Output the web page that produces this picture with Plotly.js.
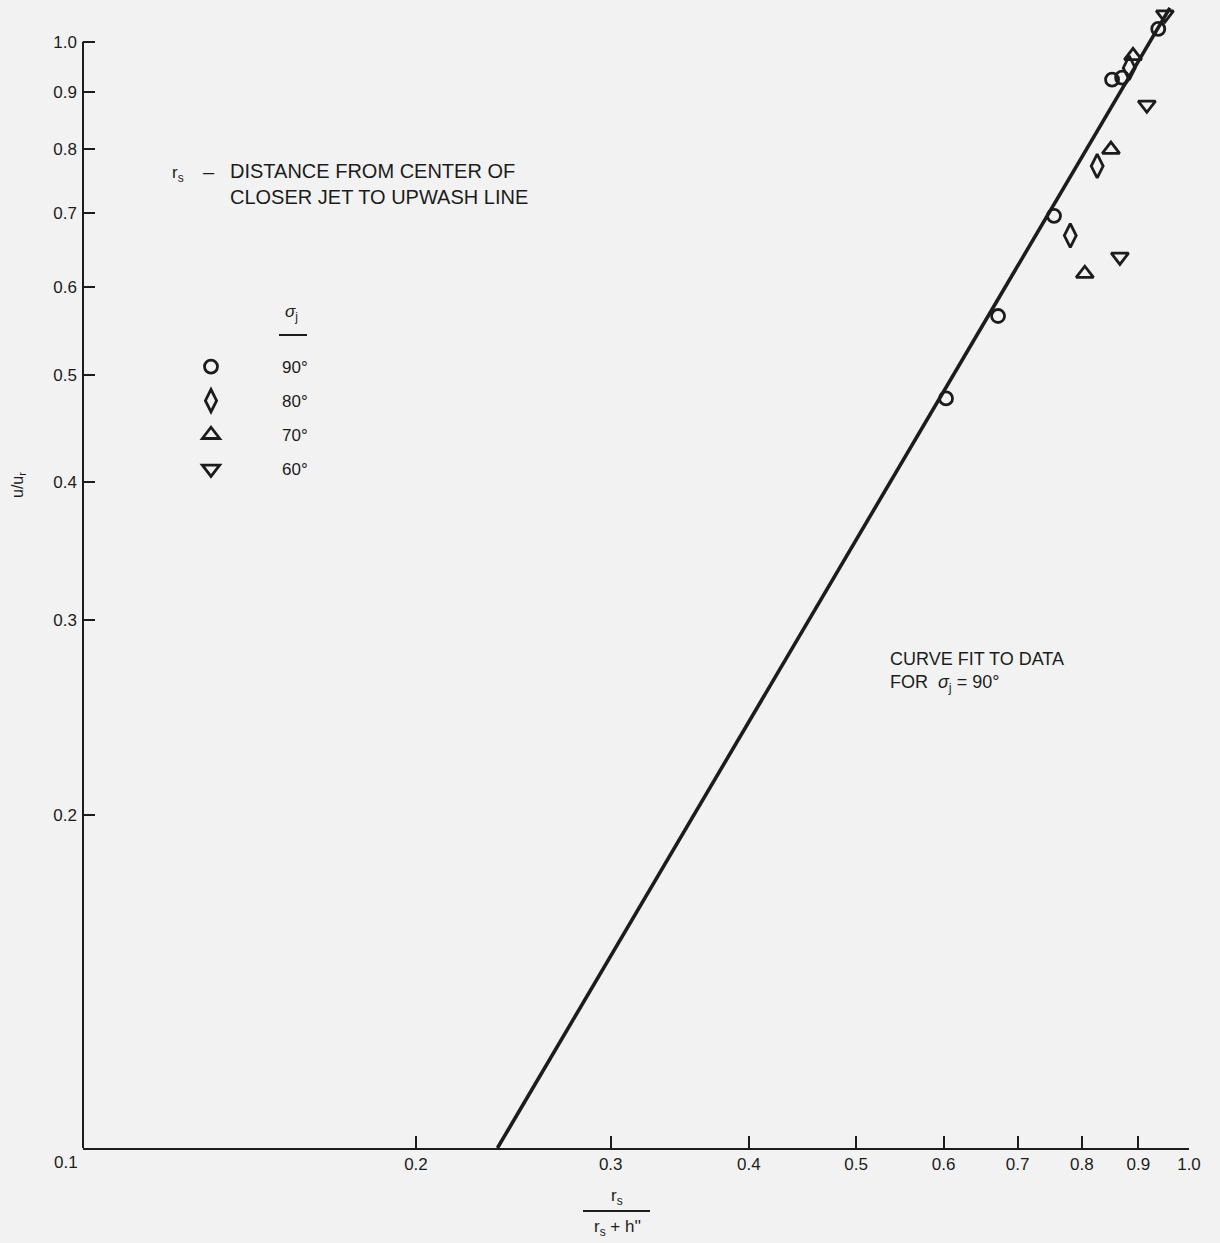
<!DOCTYPE html>
<html>
<head>
<meta charset="utf-8">
<script src="https://cdn.plot.ly/plotly-3.0.1.min.js"></script>
<style>
  html, body { margin: 0; padding: 0; background: #f2f2f2; }
  #chart { width: 1220px; height: 1243px; }
</style>
</head>
<body>
<div id="chart"></div>
<script>
// Upwash velocity ratio against r_s / (r_s + h''), log-log, by jet angle sigma_j
var angleLabels = ['90°', '80°', '70°', '60°'];

var x90 = [0.603, 0.672, 0.755, 0.852, 0.870, 0.938];
var y90 = [0.476, 0.565, 0.696, 0.924, 0.928, 1.027];

var x80 = [0.781, 0.826, 0.883];
var y80 = [0.668, 0.772, 0.947];

var x70 = [0.805, 0.850, 0.890];
var y70 = [0.617, 0.799, 0.971];

var x60 = [0.866, 0.916, 0.951];
var y60 = [0.639, 0.877, 1.058];

// straight-line (power-law) fit through the 90 degree points
var fitX = [0.237, 0.961];
var fitY = [0.100, 1.073];

var xTicks = [0.2, 0.3, 0.4, 0.5, 0.6, 0.7, 0.8, 0.9, 1.0];
var xTickText = ['0.2', '0.3', '0.4', '0.5', '0.6', '0.7', '0.8', '0.9', '1.0'];
var yTicks = [0.2, 0.3, 0.4, 0.5, 0.6, 0.7, 0.8, 0.9, 1.0];
var yTickText = ['0.2', '0.3', '0.4', '0.5', '0.6', '0.7', '0.8', '0.9', '1.0'];

// page geometry
var W = 1220, H = 1243;
var M = { l: 83, r: 31, t: 3, b: 95 };
var plotW = W - M.l - M.r, plotH = H - M.t - M.b;
var yRange = [-1, 0.035];
function px(x) { return (x - M.l) / plotW; }
function py(y) { return (M.t + plotH - y) / plotH; }

var ink = '#1c1c1c';
var FONT = '"Liberation Sans", Arial, Helvetica, sans-serif';

function markerTrace(xs, ys, name, symbol, size) {
  return {
    type: 'scatter', mode: 'markers', x: xs, y: ys, name: name,
    legendgroup: name,
    marker: { symbol: symbol, size: size, color: ink, line: { color: ink, width: 2.8 } },
    cliponaxis: false, hoverinfo: 'x+y'
  };
}

var traces = [
  { type: 'scatter', mode: 'lines', x: fitX, y: fitY, showlegend: false,
    line: { color: ink, width: 3.6 }, hoverinfo: 'skip' },
  markerTrace(x90, y90, angleLabels[0], 'circle-open', 13),
  markerTrace(x80, y80, angleLabels[1], 'diamond-tall-open', 17),
  markerTrace(x70, y70, angleLabels[2], 'triangle-up-open', 15),
  markerTrace(x60, y60, angleLabels[3], 'triangle-down-open', 15)
];

var annFont = { family: FONT, size: 17, color: ink };
var capsFont = { family: FONT, size: 20, color: ink };

var annotations = [
  // shared origin label
  { xref: 'paper', yref: 'paper', x: px(66), y: py(1162), text: '0.1',
    showarrow: false, font: annFont, xanchor: 'center', yanchor: 'middle' },
  // y-axis title
  { xref: 'paper', yref: 'paper', x: px(18), y: py(485), text: 'u/u<sub>r</sub>',
    textangle: -90, showarrow: false, font: { family: FONT, size: 16, color: ink },
    xanchor: 'center', yanchor: 'middle' },
  // x-axis title as a fraction
  { xref: 'paper', yref: 'paper', x: px(617), y: py(1197), text: 'r<sub>s</sub>',
    showarrow: false, font: annFont, xanchor: 'center', yanchor: 'middle' },
  { xref: 'paper', yref: 'paper', x: px(617), y: py(1228), text: "r<sub>s</sub> + h''",
    showarrow: false, font: annFont, xanchor: 'center', yanchor: 'middle' },
  // definition note
  { xref: 'paper', yref: 'paper', x: px(178), y: py(174), text: 'r<sub>s</sub>',
    showarrow: false, font: annFont, xanchor: 'center', yanchor: 'middle' },
  { xref: 'paper', yref: 'paper', x: px(209), y: py(172), text: '–',
    showarrow: false, font: capsFont, xanchor: 'center', yanchor: 'middle' },
  { xref: 'paper', yref: 'paper', x: px(228), y: py(184),
    text: 'DISTANCE FROM CENTER OF<br>CLOSER JET TO UPWASH LINE',
    showarrow: false, font: capsFont, xanchor: 'left', yanchor: 'middle', align: 'left' },
  // legend header
  { xref: 'paper', yref: 'paper', x: px(291), y: py(313), text: '<i>σ</i><sub>j</sub>',
    showarrow: false, font: annFont, xanchor: 'center', yanchor: 'middle' },
  // fit note
  { xref: 'paper', yref: 'paper', x: px(888), y: py(672),
    text: 'CURVE FIT TO DATA<br>FOR  <i>σ</i><sub>j</sub> = 90°',
    showarrow: false, font: { family: FONT, size: 18, color: ink },
    xanchor: 'left', yanchor: 'middle', align: 'left' }
];

var shapes = [
  // y-axis line, drawn only from 0.1 up to 1.0
  { type: 'line', xref: 'paper', yref: 'paper', x0: 0, x1: 0,
    y0: 0, y1: (0 - yRange[0]) / (yRange[1] - yRange[0]),
    line: { color: ink, width: 2 } },
  // fraction bar of the x title
  { type: 'line', xref: 'paper', yref: 'paper', x0: px(583), x1: px(650),
    y0: py(1211), y1: py(1211), line: { color: ink, width: 2 } },
  // underline of the legend header
  { type: 'line', xref: 'paper', yref: 'paper', x0: px(279), x1: px(307),
    y0: py(335), y1: py(335), line: { color: ink, width: 2 } }
];

var layout = {
  width: W, height: H,
  margin: M,
  paper_bgcolor: '#f2f2f2', plot_bgcolor: '#f2f2f2',
  font: { family: FONT, color: ink, size: 17 },
  showlegend: true,
  legend: {
    x: px(140), y: py(349), xanchor: 'left', yanchor: 'top',
    bgcolor: 'rgba(0,0,0,0)', borderwidth: 0,
    font: { family: FONT, size: 17, color: ink },
    itemwidth: 132, tracegroupgap: 9, traceorder: 'grouped'
  },
  xaxis: {
    type: 'log', range: [-1, 0],
    tickmode: 'array', tickvals: xTicks, ticktext: xTickText,
    ticks: 'inside', ticklen: 12, tickwidth: 2, tickcolor: ink,
    showline: true, linewidth: 2, linecolor: ink,
    showgrid: false, zeroline: false, fixedrange: true,
    tickfont: { family: FONT, size: 17, color: ink }
  },
  yaxis: {
    type: 'log', range: yRange,
    tickmode: 'array', tickvals: yTicks, ticktext: yTickText,
    ticks: 'inside', ticklen: 12, tickwidth: 2, tickcolor: ink,
    ticklabelstandoff: 5,
    showline: false,
    showgrid: false, zeroline: false, fixedrange: true,
    tickfont: { family: FONT, size: 17, color: ink }
  },
  annotations: annotations,
  shapes: shapes
};

Plotly.newPlot('chart', traces, layout, { displayModeBar: false, staticPlot: true });
</script>
</body>
</html>
